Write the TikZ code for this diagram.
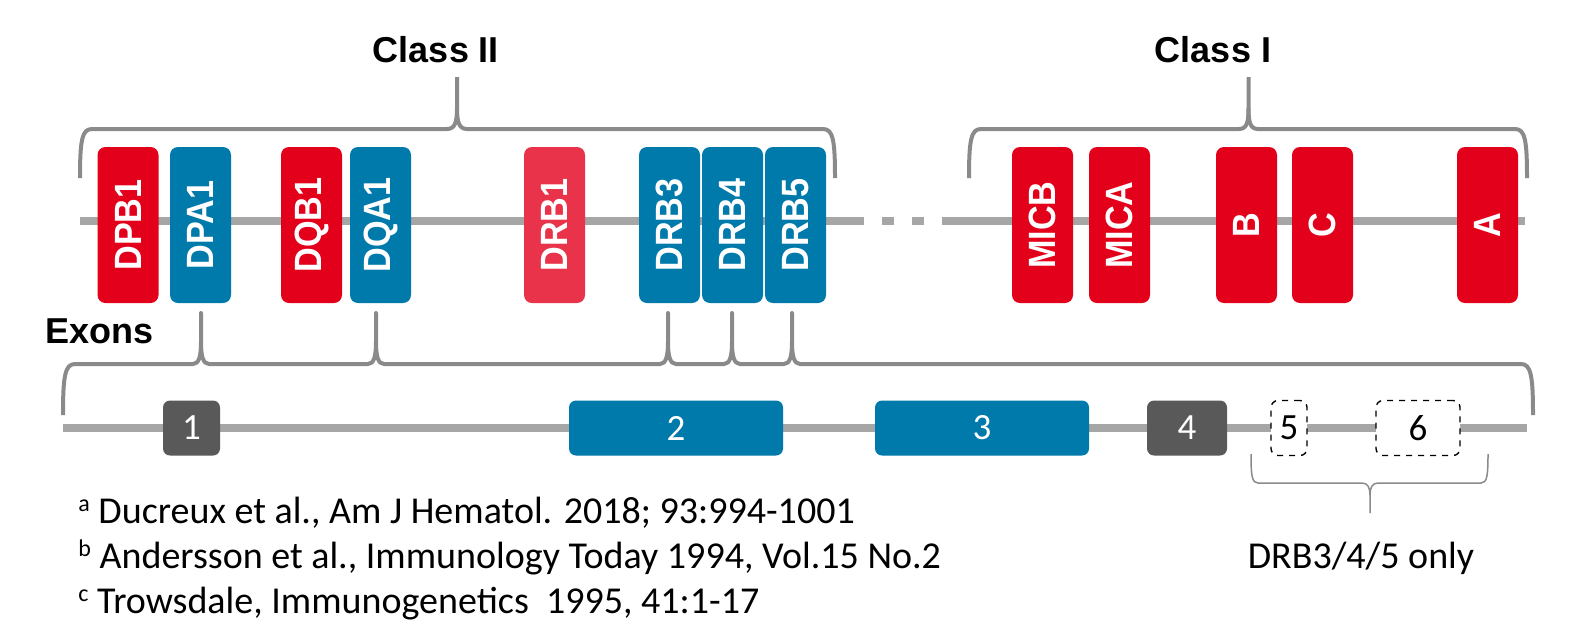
\documentclass[tikz,border=0pt]{standalone}
\usepackage{fontspec}
\setmainfont{Liberation Sans}
\newfontfamily\calib{Carlito}
\definecolor{gred}{HTML}{E2001A}
\definecolor{gred2}{HTML}{E8334A}
\definecolor{gblue}{HTML}{0079AB}
\definecolor{gdark}{HTML}{595959}
\definecolor{gline}{HTML}{A6A6A6}
\definecolor{gbrace}{HTML}{8A8A8A}
\newcommand{\glabel}[1]{\rotatebox{90}{\scalebox{0.9}[1]{#1}}}
\begin{document}
\begin{tikzpicture}[x=0.5pt,y=-0.5pt,
  gene/.style={rectangle, fill=#1, rounded corners=4pt, minimum width=30.5pt, minimum height=78pt, inner sep=0pt, text=white, font=\bfseries\fontsize{19}{19}\selectfont},
  exon/.style={rectangle, fill=#1, rounded corners=3.5pt, minimum height=27.5pt, inner sep=0pt, text=white, font=\calib\fontsize{18.5}{18.5}\selectfont},
  dexon/.style={rectangle, draw=black, dashed, line width=0.7pt, fill=white, rounded corners=3.5pt, minimum height=27.5pt, inner sep=0pt, text=black, font=\calib\fontsize{18.5}{18.5}\selectfont},
  chrom/.style={gline, line width=4pt},
  bigbrace/.style={gbrace, line width=2pt, line join=round},
  smallbrace/.style={gbrace, line width=0.75pt, line join=round},
  title/.style={font=\bfseries\fontsize{18}{18}\selectfont, inner sep=0pt},
  ref/.style={font=\calib\fontsize{19}{19}\selectfont, inner sep=0pt, anchor=base west}
]
\useasboundingbox (0,0) rectangle (1574,622);

% chromosome line
\draw[chrom] (80,220.5) -- (864,220.5);
\draw[chrom] (882,220.5) -- (894,220.5);
\draw[chrom] (912,220.5) -- (924,220.5);
\draw[chrom] (942,220.5) -- (1525,220.5);

% genes
\node[gene=gred]  (DPB1) at (128,225)   {\glabel{DPB1}};
\node[gene=gblue] (DPA1) at (200.5,225) {\glabel{DPA1}};
\node[gene=gred]  (DQB1) at (311.5,225) {\glabel{DQB1}};
\node[gene=gblue] (DQA1) at (380.5,225) {\glabel{DQA1}};
\node[gene=gred2] (DRB1) at (554.5,225) {\glabel{DRB1}};
\node[gene=gblue] (DRB3) at (669.5,225) {\glabel{DRB3}};
\node[gene=gblue] (DRB4) at (732.5,225) {\glabel{DRB4}};
\node[gene=gblue] (DRB5) at (795.5,225) {\glabel{DRB5}};
\node[gene=gred]  (MICB) at (1042.5,225) {\glabel{MICB}};
\node[gene=gred]  (MICA) at (1119.5,225) {\glabel{MICA}};
\node[gene=gred]  (B) at (1246.5,225) {\glabel{B}};
\node[gene=gred]  (C) at (1322.5,225) {\glabel{C}};
\node[gene=gred]  (A) at (1487.5,225) {\glabel{A}};

% class braces
\draw[bigbrace] (80,178) .. controls (80,140) and (82,129) .. (92,129) -- (447,129)
  .. controls (455,129) and (457,122) .. (457,108) -- (457,77);
\draw[bigbrace] (457,108) .. controls (457,122) and (459,129) .. (467,129) -- (823,129)
  .. controls (833,129) and (835,140) .. (835,178);
\draw[bigbrace] (969,178) .. controls (969,140) and (971,129) .. (981,129) -- (1239,129)
  .. controls (1247,129) and (1248.5,122) .. (1248.5,108) -- (1248.5,77);
\draw[bigbrace] (1248.5,108) .. controls (1248.5,122) and (1250,129) .. (1258,129) -- (1515,129)
  .. controls (1525,129) and (1527,140) .. (1527,178);

\node[title, anchor=base] (classII) at (436,62) {Class II};
\node[title, anchor=base] (classI) at (1213,62) {Class I};
\node[title, anchor=base west] (exons) at (45,343) {Exons};

% exon brace
\draw[bigbrace] (63,415) .. controls (63,376) and (65,364) .. (75,364)
  foreach \t in {201,376,668,732,792} {
    -- (\t-8,364) .. controls (\t-2,364) and (\t,356) .. (\t,342) -- (\t,313)
    -- (\t,342) .. controls (\t,356) and (\t+2,364) .. (\t+8,364)
  }
  -- (1521,364) .. controls (1531,364) and (1533,376) .. (1533,415);

% exon line
\draw[chrom] (63,428) -- (1527,428);
\node[exon=gdark, minimum width=28.5pt] (e1) at (191.5,428) {1};
\node[exon=gblue, minimum width=107pt] (e2) at (676,428) {2};
\node[exon=gblue, minimum width=107pt] (e3) at (982,428) {3};
\node[exon=gdark, minimum width=40pt] (e4) at (1187,428) {4};
\node[dexon, minimum width=18pt] (e5) at (1289,428) {5};
\node[dexon, minimum width=42pt] (e6) at (1418,428) {6};

% small brace
\draw[smallbrace] (1251,454) .. controls (1251,476) and (1252,483) .. (1258,483) -- (1362,483)
  .. controls (1368,483) and (1370,488) .. (1370,495) -- (1370,513);
\draw[smallbrace] (1370,495) .. controls (1370,488) and (1372,483) .. (1378,483) -- (1481,483)
  .. controls (1487,483) and (1488,476) .. (1488,454);
\node[font=\calib\fontsize{19}{19}\selectfont, inner sep=0pt, anchor=base] (only) at (1361,568) {DRB3/4/5 only};

% references
\node[ref] (r1) at (78,523) {\raisebox{6pt}{\fontsize{12}{12}\selectfont a} Ducreux et al., Am J Hematol. 2018; 93:994-1001};
\node[ref] (r2) at (78,568) {\raisebox{6pt}{\fontsize{12}{12}\selectfont b} Andersson et al., Immunology Today 1994, Vol.15 No.2};
\node[ref] (r3) at (78,613) {\raisebox{6pt}{\fontsize{12}{12}\selectfont c} Trowsdale, Immunogenetics\ \ 1995, 41:1-17};
\end{tikzpicture}
\end{document}
